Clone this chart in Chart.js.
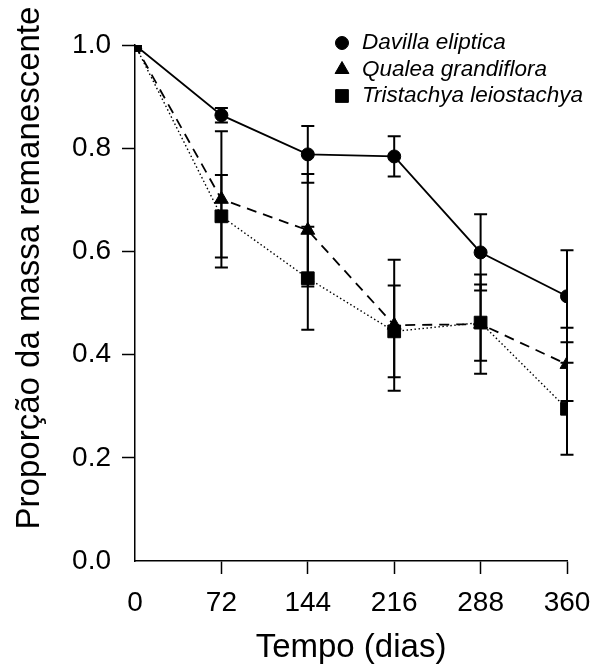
<!DOCTYPE html>
<html>
<head>
<meta charset="utf-8">
<script src="https://cdn.jsdelivr.net/npm/chart.js@4/dist/chart.umd.min.js"></script>
<style>
  html, body { margin: 0; padding: 0; background: #fff; }
</style>
</head>
<body>
<canvas id="chart-massa" width="594" height="668"></canvas>
<script>
// dias de coleta
var days = [0, 72, 144, 216, 288, 360];

var davilla = [1.0, 0.864, 0.788, 0.784, 0.598, 0.513];
var davillaErr = [0, 0.014, 0.055, 0.039, 0.074, 0.089];

var qualea = [1.0, 0.701, 0.641, 0.457, 0.459, 0.381];
var qualeaErr = [0, 0.132, 0.109, 0.127, 0.096, 0.071];

var tristachya = [1.0, 0.668, 0.548, 0.445, 0.462, 0.295];
var tristachyaErr = [0, 0.080, 0.100, 0.089, 0.074, 0.089];

var xTicks = [0, 72, 144, 216, 288, 360];
var yTicks = [0.0, 0.2, 0.4, 0.6, 0.8, 1.0];

var yTitle = 'Proporção da massa remanescente';

var FONT = '"Liberation Sans", Arial, Helvetica, sans-serif';

function pts(xs, ys) {
    return xs.map(function (x, i) { return {x: x, y: ys[i]}; });
}

// error bars, drawn before the lines so markers sit on top
var errorBars = {
    id: 'errorBars',
    beforeDatasetsDraw: function (chart) {
        var ctx = chart.ctx;
        var xs = chart.scales.x, ys = chart.scales.y;
        ctx.save();
        ctx.strokeStyle = '#000';
        ctx.lineWidth = 2;
        ctx.setLineDash([]);
        chart.data.datasets.forEach(function (ds) {
            ds.data.forEach(function (p, i) {
                var e = ds.errors[i];
                if (!e) return;
                var px = xs.getPixelForValue(p.x);
                var top = ys.getPixelForValue(p.y + e);
                var bot = ys.getPixelForValue(p.y - e);
                ctx.beginPath();
                ctx.moveTo(px, top); ctx.lineTo(px, bot);
                ctx.moveTo(px - 6.5, top); ctx.lineTo(px + 6.5, top);
                ctx.moveTo(px - 6.5, bot); ctx.lineTo(px + 6.5, bot);
                ctx.stroke();
            });
        });
        ctx.restore();
    }
};

// legend inside the plot, top right + y axis title (sits a bit above centre in the original)
var extras = {
    id: 'extras',
    afterDraw: function (chart) {
        var ctx = chart.ctx;
        ctx.save();
        ctx.font = 'italic 22.5px ' + FONT;
        ctx.textBaseline = 'middle';
        chart.data.datasets.forEach(function (ds, i) {
            var y = 43 + i * 26.5;
            var opts = {pointStyle: ds.pointStyle, radius: ds.pointRadius, rotation: 0, borderWidth: 1};
            ctx.fillStyle = '#000';
            ctx.strokeStyle = '#000';
            ctx.setLineDash([]);
            Chart.helpers.drawPoint(ctx, opts, 342, y);
            ctx.fillStyle = '#000';
            ctx.fillText(ds.label, 362, y);
        });

        ctx.translate(30, 268);
        ctx.rotate(-Math.PI / 2);
        ctx.font = '33px ' + FONT;
        ctx.textAlign = 'center';
        ctx.fillText(yTitle, 0, 0);
        ctx.restore();
    }
};

function tickCol(c) {
    return c.tick && c.tick.value === 0 ? 'rgba(0,0,0,0)' : '#000';
}

var ctx = document.getElementById('chart-massa').getContext('2d');
var chart = new Chart(ctx, {
    type: 'line',
    data: {
        datasets: [{
            label: 'Davilla eliptica',
            data: pts(days, davilla),
            errors: davillaErr,
            borderColor: '#000',
            backgroundColor: '#000',
            borderWidth: 1.8,
            pointStyle: 'circle',
            pointRadius: 6.5,
            pointBorderWidth: 1,
            tension: 0
        }, {
            label: 'Qualea grandiflora',
            data: pts(days, qualea),
            errors: qualeaErr,
            borderColor: '#000',
            backgroundColor: '#000',
            borderWidth: 1.8,
            borderDash: [10, 7],
            pointStyle: 'triangle',
            pointRadius: 8,
            pointBorderWidth: 1,
            tension: 0
        }, {
            label: 'Tristachya leiostachya',
            data: pts(days, tristachya),
            errors: tristachyaErr,
            borderColor: '#000',
            backgroundColor: '#000',
            borderWidth: 1.4,
            borderDash: [1.5, 2.5],
            pointStyle: 'rect',
            pointRadius: 9,
            pointBorderWidth: 1,
            tension: 0
        }]
    },
    options: {
        responsive: false,
        animation: false,
        devicePixelRatio: 1,
        layout: {padding: {left: 0, right: 27, top: 45, bottom: 0}},
        plugins: {
            legend: {display: false},
            tooltip: {enabled: false}
        },
        scales: {
            x: {
                type: 'linear',
                min: 0,
                max: 360,
                afterBuildTicks: function (s) { s.ticks = xTicks.map(function (v) { return {value: v}; }); },
                afterFit: function (s) { s.height = 107; s.paddingLeft = 0; s.paddingRight = 0; },
                grid: {drawOnChartArea: false, drawTicks: true, tickLength: 13, tickWidth: 1.5, tickColor: tickCol},
                border: {display: true, color: '#000', width: 1.5},
                ticks: {color: '#000', font: {family: FONT, size: 28}, padding: 12, maxRotation: 0},
                title: {display: true, text: 'Tempo (dias)', color: '#000', font: {family: FONT, size: 33}, padding: {top: 4, bottom: 0}}
            },
            y: {
                min: 0,
                max: 1,
                afterBuildTicks: function (s) { s.ticks = yTicks.map(function (v) { return {value: v}; }); },
                afterFit: function (s) { s.width = 135; },
                grid: {drawOnChartArea: false, drawTicks: true, tickLength: 13, tickWidth: 1.5, tickColor: tickCol},
                border: {display: true, color: '#000', width: 1.5},
                ticks: {color: '#000', font: {family: FONT, size: 28}, padding: 11,
                    callback: function (v) { return Number(v).toFixed(1); }},
                title: {display: false}
            }
        }
    },
    plugins: [errorBars, extras]
});
</script>
</body>
</html>
